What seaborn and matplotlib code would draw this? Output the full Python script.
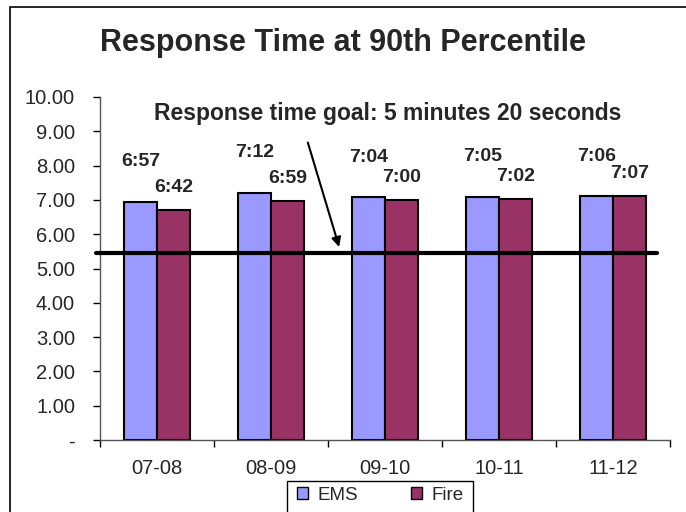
import matplotlib
matplotlib.use("Agg")
import matplotlib.pyplot as plt
import matplotlib.transforms as mtransforms
from matplotlib.patches import Rectangle, Patch
import seaborn as sns
import pandas as pd

years = ["07-08", "08-09", "09-10", "10-11", "11-12"]
ems_values = [6.95, 7.20, 7.07, 7.08, 7.10]
fire_values = [6.70, 6.98, 7.00, 7.03, 7.12]
ems_labels = ["6:57", "7:12", "7:04", "7:05", "7:06"]
fire_labels = ["6:42", "6:59", "7:00", "7:02", "7:07"]
goal_value = 5.45
goal_text = "Response time goal: 5 minutes 20 seconds"
title = "Response Time at 90th Percentile"
yticks = [0, 1, 2, 3, 4, 5, 6, 7, 8, 9, 10]

df = pd.DataFrame({
    "Year": years * 2,
    "Time": ems_values + fire_values,
    "Type": ["EMS"] * len(years) + ["Fire"] * len(years),
})

sns.set_style("white")
plt.rcParams["font.family"] = ["Liberation Sans", "DejaVu Sans"]

fig = plt.figure(figsize=(6.86, 5.12), dpi=100)
ax = fig.add_axes([100 / 686, 1 - 440 / 512, 570 / 686, 343 / 512])

palette = {"EMS": "#9999FF", "Fire": "#993366"}
sns.barplot(data=df, x="Year", y="Time", hue="Type", palette=palette,
            width=0.58, gap=0, edgecolor="black", linewidth=1.5,
            saturation=1, ax=ax, legend=False)

ax.set_ylim(0, 10)
ax.set_xlim(-0.5, len(years) - 0.5)
ax.set_yticks(yticks)
ax.set_yticklabels(["-"] + [f"{v:.2f}" for v in yticks[1:]], fontsize=14.5)
ax.tick_params(axis="y", direction="out", length=5, width=1, color="black", left=True, pad=13)
ax.set_xticks(range(len(years)))
ax.set_xticklabels(years, fontsize=14.5)
ax.tick_params(axis="x", which="major", length=0, pad=14)
ax.set_xticks([i - 0.5 for i in range(len(years) + 1)], minor=True)
ax.tick_params(axis="x", which="minor", direction="out", length=5, width=1, color="black", bottom=True)
ax.set_xlabel("")
ax.set_ylabel("")
for s in ["top", "right"]:
    ax.spines[s].set_visible(False)
for s in ["left", "bottom"]:
    ax.spines[s].set_color("#555555")
    ax.spines[s].set_linewidth(1)

# value labels
bars = ax.patches
ems_bars = bars[:len(years)]
fire_bars = bars[len(years):2 * len(years)]
for b, lab in zip(ems_bars, ems_labels):
    ax.annotate(lab, (b.get_x() + b.get_width() / 2, b.get_height()),
                xytext=(0, 29), textcoords="offset points", ha="center", va="center",
                fontsize=14, fontweight="bold")
for b, lab in zip(fire_bars, fire_labels):
    ax.annotate(lab, (b.get_x() + b.get_width() / 2, b.get_height()),
                xytext=(0, 16), textcoords="offset points", ha="center", va="center",
                fontsize=14, fontweight="bold")

# goal line
trans = mtransforms.blended_transform_factory(ax.transAxes, ax.transData)
ax.plot([-0.007, 0.977], [goal_value, goal_value], color="black", lw=3,
        transform=trans, clip_on=False, zorder=5)

ax.text(2.02, 9.53, goal_text, ha="center", va="center", fontsize=16.5, fontweight="bold")
ax.annotate("", xy=(1.605, goal_value + 0.1), xytext=(1.316, 8.75),
            arrowprops=dict(arrowstyle="-|>", color="black", lw=1.5, mutation_scale=14),
            zorder=6)

fig.text(0.5, 1 - 43 / 512, title, ha="center", va="center", fontsize=22, fontweight="bold")

handles = [Patch(facecolor=palette["EMS"], edgecolor="black", label="EMS"),
           Patch(facecolor=palette["Fire"], edgecolor="black", label="Fire")]
leg = fig.legend(handles=handles, loc="center", bbox_to_anchor=(380 / 686, 1 - 495 / 512),
                 ncol=2, fontsize=13.5, frameon=False, handlelength=0.6,
                 handleheight=0.6, columnspacing=2.8, borderpad=0.2, handletextpad=0.5,
                 borderaxespad=0)

# legend frame (extends past the bottom edge, as in the reference)
fig.patches.append(Rectangle((287 / 686, -0.05), 186 / 686, 0.05 + 1 - 481 / 512,
                             transform=fig.transFigure, fill=False, edgecolor="black", lw=1))

fig.patches.append(Rectangle((10 / 686, -0.1), 1.2, 1 - 7 / 512 + 0.1, transform=fig.transFigure,
                             fill=False, edgecolor="black", lw=1.2))

fig.savefig("out.png", dpi=100)
